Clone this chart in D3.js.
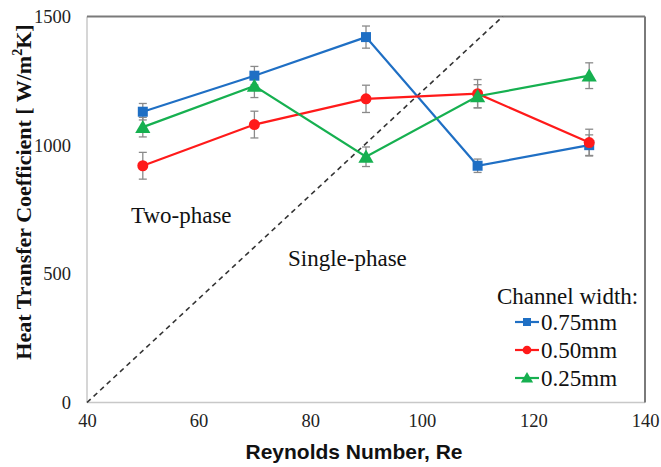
<!DOCTYPE html>
<html><head><meta charset="utf-8">
<script src="https://cdn.jsdelivr.net/npm/d3@7"></script>
<style>body{margin:0;background:#fff}</style>
</head><body>
<svg id="c" width="661" height="467"></svg>
<script>
const reynolds = [50, 70, 90, 110, 130];
const seriesNames = ["0.75mm", "0.50mm", "0.25mm"];
const h075 = [1130, 1270, 1420, 920, 1000];
const h050 = [920, 1080, 1180, 1200, 1010];
const h025 = [1070, 1230, 955, 1190, 1270];
const err075 = [32, 36, 43, 26, 40];
const err050 = [52, 52, 53, 55, 52];
const err025 = [38, 45, 38, 45, 50];
const xTicks = [40, 60, 80, 100, 120, 140];
const yTicks = [0, 500, 1000, 1500];
const boundaryRe = [40, 114.5];
const boundaryH = [0, 1500];

const colors = ["#1f6fc4", "#ff1a1a", "#16b050"];
const symbols = [d3.symbolSquare, d3.symbolCircle, d3.symbolTriangle];
const symSizes = [100, 95, 100];

const svg = d3.select("#c");
const L = 87, R = 645, T = 16.5, B = 402.5;
const x = d3.scaleLinear().domain([40, 140]).range([L, R]);
const y = d3.scaleLinear().domain([0, 1500]).range([B, T]);

// frame
svg.append("line").attr("x1", L).attr("x2", L).attr("y1", T).attr("y2", B).attr("stroke", "#c8c8c8").attr("stroke-width", 1.5);
svg.append("line").attr("x1", L).attr("x2", R).attr("y1", B).attr("y2", B).attr("stroke", "#c8c8c8").attr("stroke-width", 1.5);
svg.append("line").attr("x1", L).attr("x2", R).attr("y1", T).attr("y2", T).attr("stroke", "#7a7a7a").attr("stroke-width", 2);
svg.append("line").attr("x1", R).attr("x2", R).attr("y1", T).attr("y2", B).attr("stroke", "#7a7a7a").attr("stroke-width", 2);

// axes (labels only)
const xAxis = svg.append("g").attr("transform", `translate(0,${B})`)
  .call(d3.axisBottom(x).tickValues(xTicks).tickSize(0).tickPadding(11).tickFormat(d3.format("d")));
xAxis.select(".domain").remove();
xAxis.selectAll("text").attr("font-family", "Liberation Serif").attr("font-size", 18.5).attr("fill", "#222");
const yAxis = svg.append("g").attr("transform", `translate(${L},0)`)
  .call(d3.axisLeft(y).tickValues(yTicks).tickSize(0).tickPadding(16).tickFormat(d3.format("d")));
yAxis.select(".domain").remove();
yAxis.selectAll("text").attr("font-family", "Liberation Serif").attr("font-size", 18.5).attr("fill", "#222");

// titles
svg.append("text").attr("x", 354).attr("y", 459).attr("text-anchor", "middle")
  .attr("font-family", "Liberation Sans").attr("font-weight", "bold").attr("font-size", 21).attr("fill", "#111")
  .text("Reynolds Number, Re");
const yt = svg.append("text").attr("transform", "translate(31,192) rotate(-90)").attr("text-anchor", "middle")
  .attr("font-family", "Liberation Serif").attr("font-weight", "bold").attr("font-size", 22).attr("fill", "#111");
yt.append("tspan").text("Heat Transfer Coefficient [ W/m");
yt.append("tspan").attr("font-size", 14).attr("dy", -9).text("2");
yt.append("tspan").attr("dy", 9).text("K]");

// boundary dashed line
svg.append("line").attr("x1", x(boundaryRe[0])).attr("y1", y(boundaryH[0]))
  .attr("x2", x(boundaryRe[1])).attr("y2", y(boundaryH[1]))
  .attr("stroke", "#333").attr("stroke-width", 1.6).attr("stroke-dasharray", "5,4");

// region labels
svg.append("text").attr("x", 131).attr("y", 223).attr("font-family", "Liberation Serif").attr("font-size", 23).attr("fill", "#111").text("Two-phase");
svg.append("text").attr("x", 288).attr("y", 266).attr("font-family", "Liberation Serif").attr("font-size", 23).attr("fill", "#111").text("Single-phase");

const values = [h075, h050, h025];
const errs = [err075, err050, err025];
const line = d3.line().x(d => x(d[0])).y(d => y(d[1]));

// error bars
values.forEach((vals, s) => {
  const g = svg.append("g");
  reynolds.forEach((re, i) => {
    const cx = x(re), y1 = y(vals[i] + errs[s][i]), y2 = y(vals[i] - errs[s][i]);
    g.append("line").attr("x1", cx).attr("x2", cx).attr("y1", y1).attr("y2", y2).attr("stroke", "#8a8a8a").attr("stroke-width", 1.3);
    [y1, y2].forEach(yy => g.append("line").attr("x1", cx - 4).attr("x2", cx + 4).attr("y1", yy).attr("y2", yy).attr("stroke", "#8a8a8a").attr("stroke-width", 1.3));
  });
});

// series lines & markers
values.forEach((vals, s) => {
  const pts = reynolds.map((re, i) => [re, vals[i]]);
  svg.append("path").attr("d", line(pts)).attr("fill", "none").attr("stroke", colors[s]).attr("stroke-width", 2.2);
  svg.append("g").selectAll("path").data(pts).join("path")
    .attr("transform", d => `translate(${x(d[0])},${y(d[1]) + (s === 2 ? 1.5 : 0)})`)
    .attr("d", d3.symbol().type(symbols[s]).size(symSizes[s])).attr("fill", colors[s]);
});

// legend
svg.append("text").attr("x", 497).attr("y", 304).attr("font-family", "Liberation Serif").attr("font-size", 23).attr("fill", "#111").text("Channel width:");
const legY = [322, 350, 378];
seriesNames.forEach((n, s) => {
  const yy = legY[s];
  svg.append("line").attr("x1", 515).attr("x2", 539).attr("y1", yy).attr("y2", yy).attr("stroke", colors[s]).attr("stroke-width", 2.2);
  svg.append("path").attr("transform", `translate(527,${yy + (s === 2 ? 1 : 0)})`)
    .attr("d", d3.symbol().type(symbols[s]).size(s === 1 ? 60 : 65)).attr("fill", colors[s]);
  svg.append("text").attr("x", 541).attr("y", yy + 8).attr("font-family", "Liberation Serif").attr("font-size", 23).attr("fill", "#111").text(n);
});
</script>
</body></html>
